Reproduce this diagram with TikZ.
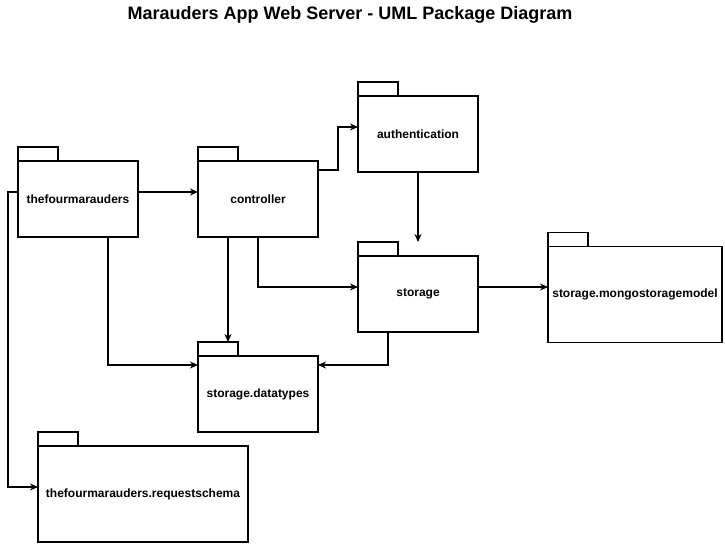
\documentclass[tikz,border=0pt]{standalone}
\usepackage{fontspec}
\setmainfont{Liberation Sans}
\usetikzlibrary{arrows.meta}
\begin{document}
\begin{tikzpicture}[x=1pt,y=-1pt,
  pkg/.style={draw, line width=1.1pt, minimum width=120pt, minimum height=76pt, inner sep=0pt, outer sep=0pt, font=\bfseries\fontsize{12}{14}\selectfont, align=center},
  pkgtab/.style={draw, line width=1.1pt},
  conn/.style={draw, line width=1.1pt, -{Stealth[length=8pt,width=7pt]}}]
\useasboundingbox (0,0) rectangle (725,544);
\node[font=\bfseries\fontsize{18}{21}\selectfont] (title) at (350,15) {Marauders App Web Server - UML Package Diagram};
\node[pkg] (tfm) at (78,199) {thefourmarauders};
\node[pkg] (ctl) at (258,199) {controller};
\node[pkg] (auth) at (418,134) {authentication};
\node[pkg] (sto) at (418,294) {storage};
\node[pkg, minimum width=174pt, minimum height=96pt] (mongo) at (635,294.5) {storage.mongostoragemodel};
\node[pkg] (dt) at (258,394) {storage.datatypes};
\node[pkg, minimum width=210pt, minimum height=96pt] (rs) at (143,494) {thefourmarauders.requestschema};
\foreach \n in {tfm,ctl,auth,sto,mongo,dt,rs}
  \draw[pkgtab] (\n.north west) rectangle ++(40,-14);
\draw[conn] ([yshift=7pt]tfm.east) -- ([yshift=7pt]ctl.west);
\draw[conn] ([yshift=29pt]ctl.east) -- ++(20,0) |- ([yshift=7pt]auth.west);
\draw[conn] (auth.south) -- ([yshift=14pt]sto.north);
\draw[conn] (ctl.south) |- ([yshift=7pt]sto.west);
\draw[conn] ([xshift=-30pt]ctl.south) -- ([xshift=-30pt,yshift=14pt]dt.north);
\draw[conn] ([xshift=30pt]tfm.south) |- ([yshift=29pt]dt.west);
\draw[conn] ([xshift=-30pt]sto.south) |- ([yshift=29pt]dt.east);
\draw[conn] ([yshift=7pt]sto.east) -- ([yshift=7pt]sto.east -| mongo.west);
\draw[conn] ([yshift=7pt]tfm.west) -- ++(-10,0) |- ([yshift=7pt]rs.west);
\end{tikzpicture}
\end{document}
